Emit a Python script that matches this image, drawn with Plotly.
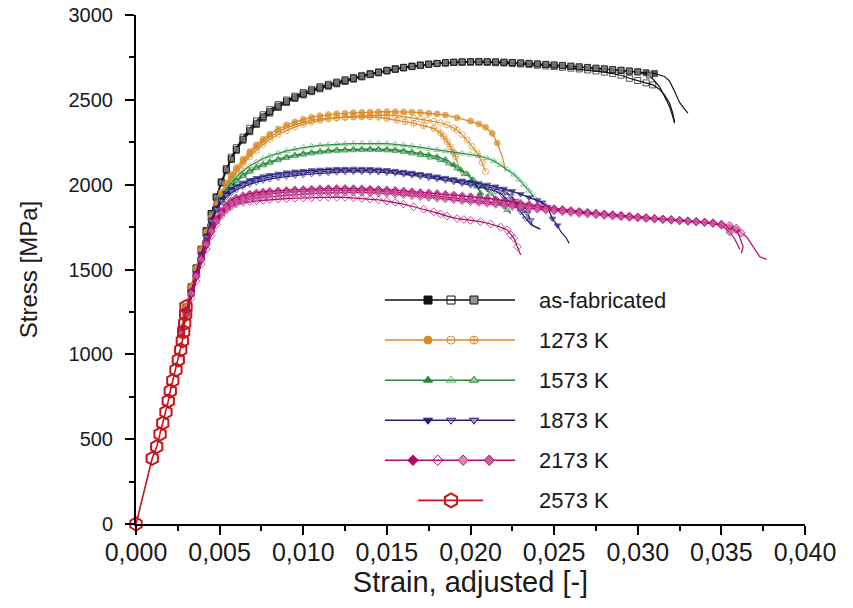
import plotly.graph_objects as go

# ---------------- data ----------------
# strain grid used for the rising part of every curve
E = [0.0027, 0.0030, 0.0033, 0.0036, 0.0039, 0.0042, 0.0045, 0.0048, 0.0051, 0.0054,
     0.0057, 0.0060, 0.0064, 0.0068, 0.0072, 0.0076, 0.0080, 0.0085, 0.0090, 0.0095,
     0.0100, 0.0105, 0.0110, 0.0115, 0.0120]
# strain grid used for the plateau of every curve
G = [0.0125, 0.0130, 0.0135, 0.0140, 0.0145, 0.0150, 0.0155, 0.0160, 0.0165, 0.0170,
     0.0175, 0.0180, 0.0185, 0.0190, 0.0195, 0.0200, 0.0205, 0.0210, 0.0215, 0.0220,
     0.0225, 0.0230, 0.0235, 0.0240, 0.0245, 0.0250, 0.0255, 0.0260, 0.0265, 0.0270,
     0.0275, 0.0280, 0.0285, 0.0290, 0.0295, 0.0300, 0.0305, 0.0310, 0.0315, 0.0320,
     0.0325, 0.0330, 0.0335, 0.0340, 0.0345, 0.0350, 0.0355]

# ---- as-fabricated ----
af1_x = E + G[:38] + [0.0316, 0.0319, 0.0322, 0.0325, 0.0328, 0.0330]
af1_y = [1150, 1280, 1400, 1510, 1620, 1730, 1830, 1925, 2010, 2082, 2148, 2202, 2262, 2312, 2355, 2392, 2422,
         2455, 2484, 2508, 2529, 2548, 2565, 2580, 2594,
         2608, 2622, 2635, 2648, 2659, 2670, 2679, 2688, 2696, 2703, 2709, 2714, 2718, 2721, 2723, 2724, 2725,
         2724, 2723, 2721, 2719, 2717, 2714, 2711, 2708, 2704, 2701, 2697, 2693, 2689, 2685, 2681, 2677, 2673,
         2669, 2665, 2660, 2655,
         2638, 2610, 2550, 2485, 2445, 2422]
af2_x = E + G[:34] + [0.0295, 0.0300, 0.0305, 0.0309, 0.0313, 0.0316, 0.0319, 0.0321, 0.0322]
af2_y = [1140, 1270, 1390, 1505, 1615, 1725, 1830, 1928, 2018, 2095, 2162, 2218, 2280, 2332, 2376, 2412, 2442,
         2472, 2499, 2522, 2543, 2562, 2578, 2592, 2605,
         2619, 2632, 2644, 2655, 2665, 2675, 2684, 2692, 2699, 2705, 2710, 2714, 2717, 2720, 2721, 2722, 2722,
         2721, 2719, 2717, 2714, 2711, 2708, 2704, 2700, 2696, 2692, 2687, 2682, 2676, 2670, 2663, 2655, 2645,
         2627, 2614, 2600, 2588, 2562, 2530, 2481, 2420, 2371]
af3_x = E + G[:36] + [0.0307, 0.0313, 0.0317, 0.0319, 0.0321, 0.0322]
af3_y = [1145, 1275, 1395, 1508, 1618, 1728, 1828, 1926, 2012, 2088, 2152, 2208, 2268, 2318, 2362, 2400, 2431,
         2463, 2491, 2515, 2535, 2554, 2571, 2586, 2600,
         2613, 2626, 2639, 2651, 2662, 2672, 2681, 2690, 2697, 2704, 2710, 2715, 2719, 2722, 2724, 2725, 2725,
         2725, 2724, 2722, 2720, 2718, 2715, 2712, 2709, 2706, 2703, 2699, 2695, 2691, 2687, 2683, 2679, 2675,
         2670, 2665,
         2646, 2578, 2500, 2460, 2400, 2363]

# ---- 1273 K ----
k1273_1_x = E + G[:13] + [0.0192, 0.0200, 0.0205, 0.0209, 0.0213, 0.0216, 0.0219, 0.0221]
k1273_1_y = [1150, 1280, 1400, 1510, 1620, 1720, 1810, 1890, 1955, 2010, 2060, 2100, 2150, 2195, 2235, 2268,
             2298, 2328, 2352, 2370, 2385, 2397, 2406, 2413, 2418,
             2421, 2424, 2426, 2428, 2429, 2430, 2430, 2429, 2427, 2425, 2421, 2417, 2410,
             2395, 2375, 2358, 2338, 2303, 2245, 2165, 2086]
k1273_2_x = E + G[:8] + [0.0166, 0.0170, 0.0174, 0.0178, 0.0182, 0.0186, 0.0190, 0.0192, 0.0195, 0.0198,
                         0.0201, 0.0204, 0.0207, 0.0209]
k1273_2_y = [1145, 1272, 1392, 1502, 1610, 1708, 1795, 1870, 1932, 1985, 2030, 2070, 2120, 2165, 2203, 2237,
             2267, 2297, 2320, 2340, 2356, 2369, 2379, 2387, 2394,
             2399, 2403, 2406, 2409, 2410, 2411, 2407, 2402,
             2392, 2386, 2380, 2373, 2365, 2353, 2335, 2322, 2295, 2263, 2225, 2185, 2130, 2077]
k1273_3_x = E + G[:5] + [0.0150, 0.0156, 0.0161, 0.0166, 0.0172, 0.0178, 0.0182, 0.0184, 0.0186, 0.0188,
                         0.0190, 0.0191, 0.0193, 0.0195]
k1273_3_y = [1148, 1276, 1396, 1506, 1614, 1714, 1802, 1880, 1943, 1997, 2045, 2085, 2135, 2180, 2219, 2252,
             2282, 2312, 2336, 2354, 2368, 2379, 2386, 2391, 2394,
             2396, 2398, 2399, 2400, 2397,
             2390, 2380, 2371, 2362, 2348, 2332, 2305, 2283, 2255, 2224, 2190, 2165, 2106, 2050]

# ---- 1573 K ----
k1573_1_x = E + G[:13] + [0.0190, 0.0194, 0.0198, 0.0201, 0.0204, 0.0206, 0.0208]
k1573_1_y = [1120, 1240, 1360, 1470, 1580, 1680, 1775, 1855, 1915, 1960, 1997, 2027, 2058, 2083, 2104, 2121,
             2136, 2151, 2164, 2175, 2184, 2191, 2197, 2202, 2205,
             2207, 2209, 2210, 2211, 2210, 2209, 2206, 2201, 2194, 2185, 2176, 2165, 2148,
             2118, 2090, 2062, 2030, 1988, 1950, 1910]
k1573_2_x = E + G[:17] + [0.0210, 0.0214, 0.0218, 0.0222, 0.0226, 0.0229, 0.0232, 0.0235, 0.0238]
k1573_2_y = [1110, 1230, 1350, 1460, 1570, 1672, 1768, 1852, 1918, 1970, 2012, 2046, 2082, 2110, 2134, 2154,
             2170, 2186, 2199, 2210, 2219, 2226, 2231, 2235, 2238,
             2240, 2242, 2243, 2244, 2243, 2242, 2238, 2234, 2227, 2220, 2212, 2205, 2197, 2190, 2184, 2178, 2170,
             2156, 2140, 2115, 2090, 2060, 2030, 2000, 1965, 1925]
k1573_3_x = E + G[:10] + [0.0176, 0.0182, 0.0187, 0.0192, 0.0197, 0.0202, 0.0207, 0.0212, 0.0217, 0.0222,
                          0.0224]
k1573_3_y = [1115, 1235, 1355, 1465, 1575, 1676, 1770, 1850, 1910, 1955, 1990, 2020, 2050, 2076, 2097, 2114,
             2129, 2144, 2157, 2168, 2177, 2184, 2190, 2195, 2199,
             2201, 2203, 2204, 2205, 2204, 2202, 2198, 2192, 2184, 2175,
             2160, 2145, 2125, 2096, 2065, 2027, 1990, 1949, 1900, 1851, 1830]

# ---- 1873 K ----
k1873_1_x = E + G[:24] + [0.0243, 0.0246, 0.0249, 0.0252, 0.0254, 0.0257, 0.0259]
k1873_1_y = [1130, 1250, 1370, 1480, 1590, 1700, 1795, 1865, 1915, 1950, 1975, 1994, 2012, 2027, 2039, 2049,
             2057, 2065, 2072, 2077, 2081, 2085, 2088, 2090, 2092,
             2093, 2094, 2093, 2092, 2089, 2086, 2081, 2076, 2070, 2063, 2056, 2048, 2040, 2032, 2024, 2016, 2008,
             2000, 1989, 1976, 1962, 1944, 1925, 1908,
             1895, 1868, 1800, 1760, 1723, 1690, 1654]
k1873_2_x = E + G[:18] + [0.0215, 0.0219, 0.0222, 0.0226, 0.0230, 0.0233, 0.0236, 0.0238, 0.0241]
k1873_2_y = [1125, 1245, 1362, 1472, 1580, 1688, 1780, 1848, 1895, 1928, 1952, 1970, 1988, 2003, 2015, 2025,
             2033, 2041, 2048, 2054, 2059, 2063, 2067, 2070, 2073,
             2075, 2076, 2076, 2076, 2074, 2071, 2067, 2062, 2055, 2048, 2041, 2034, 2026, 2017, 2007, 1997, 1987,
             1976,
             1962, 1940, 1912, 1880, 1840, 1800, 1765, 1755, 1743]
k1873_3_x = E + G[:18] + [0.0214, 0.0218, 0.0221, 0.0224, 0.0227, 0.0229, 0.0232, 0.0234, 0.0236, 0.0237,
                          0.0240, 0.0242]
k1873_3_y = [1128, 1248, 1366, 1476, 1585, 1694, 1788, 1856, 1905, 1940, 1964, 1983, 2001, 2016, 2028, 2038,
             2046, 2054, 2061, 2067, 2071, 2075, 2078, 2081, 2083,
             2084, 2085, 2085, 2084, 2082, 2079, 2074, 2069, 2063, 2056, 2049, 2041, 2033, 2024, 2015, 2006, 1997,
             1988,
             1978, 1968, 1955, 1935, 1905, 1880, 1850, 1831, 1790, 1762, 1745, 1737]

# ---- 2173 K ----
k2173_1_x = E + G[:47] + [0.0359, 0.0361, 0.0363, 0.0362]
k2173_1_y = [1130, 1250, 1370, 1470, 1570, 1660, 1740, 1800, 1845, 1880, 1905, 1922, 1935, 1945, 1952, 1957,
             1961, 1964, 1967, 1970, 1972, 1974, 1976, 1977, 1978,
             1978, 1977, 1976, 1974, 1972, 1970, 1967, 1963, 1959, 1955, 1952, 1948, 1944, 1940, 1935, 1930, 1925,
             1920, 1913, 1905, 1898, 1890, 1883, 1875, 1867, 1860, 1854, 1848, 1843, 1838, 1833, 1828, 1824, 1820,
             1815, 1810, 1806, 1802, 1798, 1795, 1791, 1787, 1784, 1780, 1776, 1765, 1748,
             1733, 1690, 1634, 1595]
k2173_2_x = E + G[:8] + [0.0166, 0.0172, 0.0178, 0.0182, 0.0186, 0.0192, 0.0196, 0.0200, 0.0206, 0.0212,
                         0.0218, 0.0222, 0.0224, 0.0226, 0.0228, 0.0230]
k2173_2_y = [1110, 1220, 1330, 1430, 1530, 1620, 1700, 1765, 1815, 1850, 1872, 1886, 1895, 1900, 1904, 1908,
             1912, 1915, 1918, 1920, 1922, 1924, 1925, 1926, 1926,
             1925, 1922, 1919, 1915, 1910, 1903, 1895, 1885,
             1870, 1855, 1840, 1828, 1815, 1800, 1795, 1790, 1782, 1768, 1750, 1733, 1705, 1684, 1634, 1585]
k2173_3_x = E + G[:47] + [0.0359, 0.0362, 0.0365, 0.0369, 0.0373, 0.0377]
k2173_3_y = [1120, 1238, 1355, 1458, 1555, 1645, 1722, 1782, 1826, 1858, 1880, 1895, 1906, 1914, 1920, 1925,
             1929, 1933, 1937, 1941, 1944, 1947, 1950, 1952, 1954,
             1955, 1955, 1954, 1953, 1951, 1948, 1944, 1940, 1935, 1930, 1925, 1920, 1915, 1910, 1905, 1900, 1895,
             1890, 1884, 1878, 1872, 1866, 1860, 1855, 1850, 1845, 1840, 1835, 1830, 1826, 1822, 1818, 1814, 1810,
             1806, 1803, 1800, 1797, 1793, 1790, 1786, 1783, 1779, 1776, 1772, 1768, 1760,
             1745, 1715, 1693, 1634, 1575, 1560]
k2173_4_x = E + G[:45] + [0.0350, 0.0355, 0.0358, 0.0360, 0.0361]
k2173_4_y = [1125, 1245, 1362, 1464, 1562, 1652, 1730, 1790, 1835, 1868, 1892, 1908, 1920, 1930, 1937, 1943,
             1948, 1952, 1956, 1959, 1962, 1964, 1966, 1967, 1968,
             1968, 1968, 1967, 1965, 1963, 1960, 1956, 1952, 1948, 1943, 1938, 1933, 1928, 1922, 1917, 1912, 1906,
             1900, 1894, 1888, 1882, 1876, 1870, 1864, 1858, 1853, 1848, 1843, 1838, 1834, 1829, 1825, 1821, 1817,
             1813, 1809, 1805, 1801, 1797, 1794, 1790, 1787, 1783, 1779, 1772,
             1760, 1720, 1680, 1640, 1620]

# ---- 2573 K ----
k2573_x = [0.0, 0.00097, 0.00124, 0.00144, 0.00160, 0.00179, 0.00193, 0.00205, 0.00220, 0.00239, 0.00253,
           0.00267, 0.00277, 0.00285, 0.00291, 0.00297, 0.00299]
k2573_y = [0, 387, 456, 530, 595, 660, 725, 784, 845, 908, 967, 1026, 1079, 1133, 1183, 1236, 1281]

labels = ["as-fabricated", "1273 K", "1573 K", "1873 K", "2173 K", "2573 K"]
x_ticks = [0.000, 0.005, 0.010, 0.015, 0.020, 0.025, 0.030, 0.035, 0.040]
y_ticks = [0, 500, 1000, 1500, 2000, 2500, 3000]

# ---------------- styles ----------------
BLACK = "#111111"
ORANGE = "#D98A25"
GREEN = "#23883A"
GREEN_L = "#5DB56A"
NAVY = "#241C7C"
MAGENTA = "#B0076E"
RED = "#C4161C"
FONT = "Liberation Sans, Arial, sans-serif"


def tint(hex_color, f=0.55):
    h = hex_color.lstrip("#")
    r, g, b = int(h[0:2], 16), int(h[2:4], 16), int(h[4:6], 16)
    r, g, b = [int(c + (255 - c) * f) for c in (r, g, b)]
    return f"#{r:02x}{g:02x}{b:02x}"


# (x, y, symbol, fill, number of trailing points drawn without a marker)
groups = [
    (BLACK, [(af1_x, af1_y, "square", BLACK, 6),
             (af2_x, af2_y, "square-open", None, 5),
             (af3_x, af3_y, "square", tint(BLACK), 5)]),
    (ORANGE, [(k1273_1_x, k1273_1_y, "circle", ORANGE, 2),
              (k1273_2_x, k1273_2_y, "circle-open", None, 0),
              (k1273_3_x, k1273_3_y, "circle-cross-open", None, 2)]),
    (GREEN, [(k1573_1_x, k1573_1_y, "triangle-up", GREEN, 1),
             (k1573_2_x, k1573_2_y, "triangle-up-open", None, 0),
             (k1573_3_x, k1573_3_y, "triangle-up", tint(GREEN), 1)]),
    (NAVY, [(k1873_1_x, k1873_1_y, "triangle-down", NAVY, 3),
            (k1873_2_x, k1873_2_y, "triangle-down-open", None, 3),
            (k1873_3_x, k1873_3_y, "triangle-down", tint(NAVY), 3)]),
    (MAGENTA, [(k2173_1_x, k2173_1_y, "diamond", MAGENTA, 3),
               (k2173_2_x, k2173_2_y, "diamond-open", None, 1),
               (k2173_3_x, k2173_3_y, "diamond", tint(MAGENTA), 4),
               (k2173_4_x, k2173_4_y, "diamond", tint(MAGENTA, 0.35), 3)]),
]

fig = go.Figure()
for color, curves in groups:
    for (xs, ys, sym, fill, n_plain) in curves:
        assert len(xs) == len(ys), (len(xs), len(ys))
        lc = GREEN_L if (color == GREEN and fill is None) else color
        sizes = [6] * (len(xs) - n_plain) + [0] * n_plain
        marker = dict(symbol=sym, size=sizes, color=(fill if fill else lc),
                      line=dict(color=lc, width=1))
        fig.add_trace(go.Scatter(x=xs, y=ys, mode="lines+markers",
                                 line=dict(color=color, width=1.2),
                                 marker=marker, showlegend=False, hoverinfo="skip"))

fig.add_trace(go.Scatter(x=k2573_x, y=k2573_y, mode="lines+markers",
                         line=dict(color=RED, width=1.6),
                         marker=dict(symbol="hexagon-open", size=13, color=RED, line=dict(width=2)),
                         cliponaxis=False, showlegend=False, hoverinfo="skip"))

# ---------------- legend (samples drawn on a hidden overlay axis) ----------------
row_top, row_step = 0.440, 0.0787
line_x0, line_x1 = 0.372, 0.5665
text_x = 0.600
for i, (label, (color, curves)) in enumerate(zip(labels[:5], groups)):
    yy = row_top - i * row_step
    mx = [0.4365, 0.4709, 0.5052] if len(curves) == 3 else [0.414, 0.451, 0.489, 0.528]
    fig.add_trace(go.Scatter(x=[line_x0, line_x1], y=[yy, yy], mode="lines",
                             line=dict(color=color, width=1.5), xaxis="x2", yaxis="y2",
                             showlegend=False, hoverinfo="skip"))
    for xm, (_, _, sym, fill, _) in zip(mx, curves):
        lc = GREEN_L if (color == GREEN and fill is None) else color
        fig.add_trace(go.Scatter(x=[xm], y=[yy], mode="markers", xaxis="x2", yaxis="y2",
                                 marker=dict(symbol=sym, size=8, color=(fill if fill else lc),
                                             line=dict(color=lc, width=1)),
                                 showlegend=False, hoverinfo="skip"))
    fig.add_annotation(x=text_x, y=yy, xref="paper", yref="paper", text=label, showarrow=False,
                       xanchor="left", yanchor="middle",
                       font=dict(family=FONT, size=22, color="#1a1a1a"))

yy = row_top - 5 * row_step
fig.add_trace(go.Scatter(x=[0.4215, 0.5187], y=[yy, yy], mode="lines", xaxis="x2", yaxis="y2",
                         line=dict(color=RED, width=1.6), showlegend=False, hoverinfo="skip"))
fig.add_trace(go.Scatter(x=[0.4709], y=[yy], mode="markers", xaxis="x2", yaxis="y2",
                         marker=dict(symbol="hexagon-open", size=14, color=RED, line=dict(width=2)),
                         showlegend=False, hoverinfo="skip"))
fig.add_annotation(x=text_x, y=yy, xref="paper", yref="paper", text=labels[5], showarrow=False,
                   xanchor="left", yanchor="middle",
                   font=dict(family=FONT, size=22, color="#1a1a1a"))

fig.update_layout(
    width=853, height=608,
    margin=dict(l=136, r=48, t=15, b=84),
    paper_bgcolor="white", plot_bgcolor="white",
    font=dict(family=FONT, color="#1a1a1a"),
    xaxis=dict(range=[0, 0.040], tickvals=x_ticks, automargin=False,
               ticktext=[f"{v:.3f}".replace(".", ",") for v in x_ticks],
               tickfont=dict(size=25, family="Liberation Sans Narrow, Arial Narrow, " + FONT),
               ticklabelstandoff=-4,
               showline=True, linecolor="black", linewidth=2, mirror=False,
               ticks="outside", ticklen=9, tickwidth=2, tickcolor="black",
               minor=dict(dtick=0.0025, ticks="outside", ticklen=5, tickwidth=1.5, tickcolor="black"),
               showgrid=False, zeroline=False,
               title=dict(text="Strain, adjusted [-]", font=dict(size=29), standoff=4)),
    yaxis=dict(range=[0, 3000], tickvals=y_ticks, automargin=False,
               tickfont=dict(size=20), ticklabelstandoff=8,
               showline=True, linecolor="black", linewidth=2, mirror=False,
               ticks="outside", ticklen=9, tickwidth=2, tickcolor="black",
               minor=dict(dtick=250, ticks="outside", ticklen=5, tickwidth=1.5, tickcolor="black"),
               showgrid=False, zeroline=False,
               title=dict(text="Stress [MPa]", font=dict(size=24), standoff=24)),
    xaxis2=dict(overlaying="x", range=[0, 1], visible=False, fixedrange=True),
    yaxis2=dict(overlaying="y", range=[0, 1], visible=False, fixedrange=True),
)

fig.write_html("out.html", config={"displayModeBar": False},
               post_script="document.body.style.margin='0';")
